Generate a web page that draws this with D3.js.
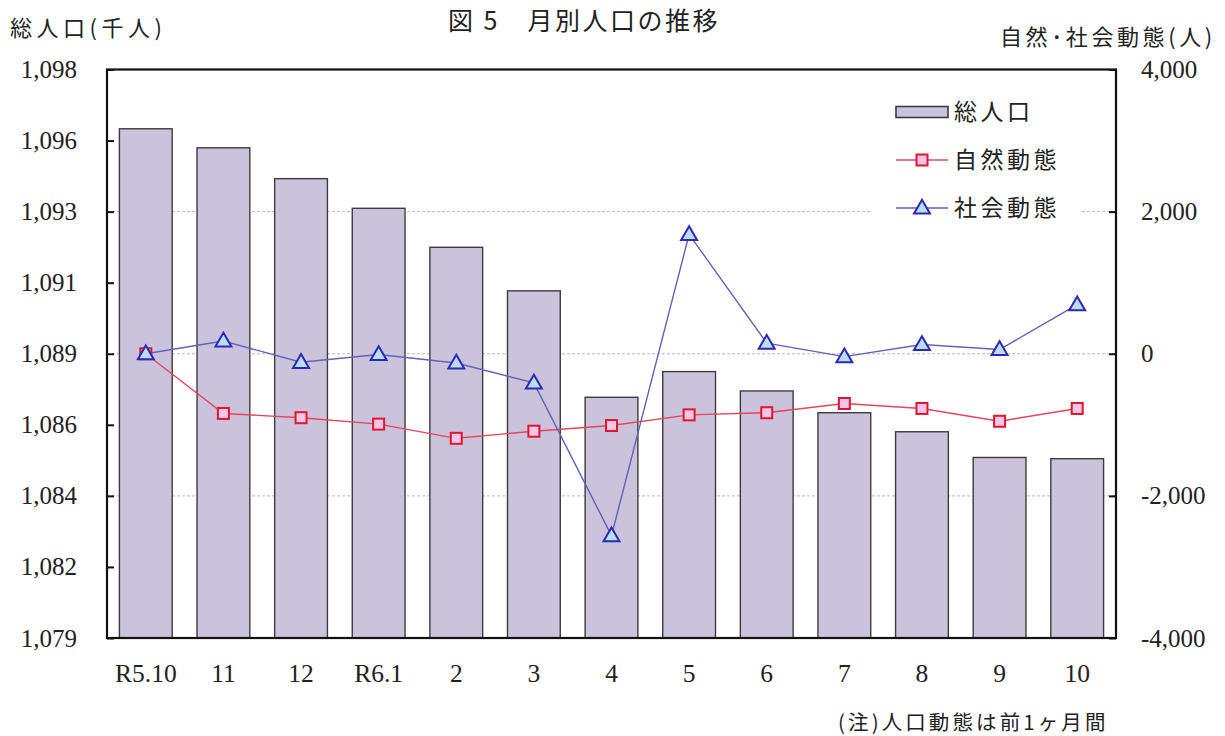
<!DOCTYPE html>
<html>
<head>
<meta charset="utf-8">
<script src="https://cdn.jsdelivr.net/npm/d3@7"></script>
<style>
  html, body { margin: 0; padding: 0; background: #fff; }
  svg { display: block; }
</style>
</head>
<body>
<svg id="chart" width="1225" height="736"></svg>
<script>
// ---- data ----
const categories = ["R5.10", "11", "12", "R6.1", "2", "3", "4", "5", "6", "7", "8", "9", "10"];
const totalPopulation = [1096.09, 1095.46, 1094.44, 1093.46, 1092.17, 1090.73, 1087.21, 1088.06, 1087.42, 1086.70, 1086.07, 1085.22, 1085.18];
const naturalChange = [0, -840, -900, -990, -1190, -1090, -1010, -860, -830, -700, -770, -950, -770];
const socialChange = [0, 180, -120, -10, -130, -410, -2560, 1680, 150, -40, 130, 60, 690];
const leftTickValues = [1079.25, 1081.6, 1083.95, 1086.3, 1088.65, 1091.0, 1093.35, 1095.7, 1098.05];
const leftTickLabels = ["1,079", "1,082", "1,084", "1,086", "1,089", "1,091", "1,093", "1,096", "1,098"];
const rightTickValues = [-4000, -2000, 0, 2000, 4000];
const gridValues = [-2000, 0, 2000];
const seriesNames = ["総人口", "自然動態", "社会動態"];
const titleText = "図 5　月別人口の推移";
const leftTitle = "総人口(千人)";
const rightTitle = "自然･社会動態(人)";
const noteText = "(注)人口動態は前1ヶ月間";

// ---- layout ----
const svg = d3.select("#chart");
const L = 107, R = 1116, T = 69.5, B = 638;
const serif = "'Liberation Serif', 'Times New Roman', serif";
const jp = "'Noto Sans CJK JP', 'Noto Sans', sans-serif";

const x = d3.scaleBand().domain(categories).range([L, R]).paddingInner(0.32).paddingOuter(0.16);
const yL = d3.scaleLinear().domain([leftTickValues[0], leftTickValues[leftTickValues.length - 1]]).range([B, T]);
const yR = d3.scaleLinear().domain([-4000, 4000]).range([B, T]);

const barFill = "#cbc3dc", barStroke = "#3c3c3c";
const redLine = "#e8445c", redStroke = "#e01530", redFill = "#f6c6e6";
const blueLine = "#6262b8", blueStroke = "#2a2ab4", blueFill = "#bcdcf4";

// gridlines
svg.append("g").selectAll("line").data(gridValues).join("line")
  .attr("x1", L).attr("x2", R)
  .attr("y1", d => yR(d)).attr("y2", d => yR(d))
  .attr("stroke", "#b8b8b8").attr("stroke-width", 1).attr("stroke-dasharray", "3,2");

// legend background (interrupts gridline)
svg.append("rect").attr("x", 871).attr("y", 88).attr("width", 211).attr("height", 136).attr("fill", "#fff");

// bars
svg.append("g").selectAll("rect").data(categories).join("rect")
  .attr("x", d => x(d))
  .attr("y", (d, i) => yL(totalPopulation[i]))
  .attr("width", x.bandwidth())
  .attr("height", (d, i) => B - yL(totalPopulation[i]))
  .attr("fill", barFill).attr("stroke", barStroke).attr("stroke-width", 1.4);

const cx = d => x(d) + x.bandwidth() / 2;

// lines
const seriesLine = d3.line().x((d, i) => cx(categories[i])).y(d => yR(d));
svg.append("path").datum(naturalChange).attr("d", seriesLine)
  .attr("fill", "none").attr("stroke", redLine).attr("stroke-width", 1.4);
svg.append("path").datum(socialChange).attr("d", seriesLine)
  .attr("fill", "none").attr("stroke", blueLine).attr("stroke-width", 1.4);

// square markers
const sq = 11;
svg.append("g").selectAll("rect").data(naturalChange).join("rect")
  .attr("x", (d, i) => cx(categories[i]) - sq / 2)
  .attr("y", d => yR(d) - sq / 2)
  .attr("width", sq).attr("height", sq)
  .attr("fill", redFill).attr("stroke", redStroke).attr("stroke-width", 2);

// triangle markers
const tri = d3.symbol().type(d3.symbolTriangle).size(110);
svg.append("g").selectAll("path").data(socialChange).join("path")
  .attr("d", tri)
  .attr("transform", (d, i) => `translate(${cx(categories[i])},${yR(d) + 1})`)
  .attr("fill", blueFill).attr("stroke", blueStroke).attr("stroke-width", 2);

// axes
const axL = d3.axisLeft(yL).tickValues(leftTickValues).tickFormat((d, i) => leftTickLabels[i])
  .tickSizeInner(-7).tickSizeOuter(0).tickPadding(30);
const gL = svg.append("g").attr("transform", `translate(${L},0)`).call(axL);
gL.select(".domain").remove();
gL.selectAll(".tick line").attr("stroke", "#111").attr("stroke-width", 2);
gL.selectAll(".tick text").attr("font-family", serif).attr("font-size", 25).attr("fill", "#222");

const fmt = d3.format(",");
const axR = d3.axisRight(yR).tickValues(rightTickValues).tickFormat(d => fmt(d).replace("−", "-"))
  .tickSizeInner(-7).tickSizeOuter(0).tickPadding(25);
const gR = svg.append("g").attr("transform", `translate(${R},0)`).call(axR);
gR.select(".domain").remove();
gR.selectAll(".tick line").attr("stroke", "#111").attr("stroke-width", 2);
gR.selectAll(".tick text").attr("font-family", serif).attr("font-size", 25).attr("fill", "#222");

const axB = d3.axisBottom(x).tickSize(0).tickPadding(26);
const gB = svg.append("g").attr("transform", `translate(0,${B})`).call(axB);
gB.select(".domain").remove();
gB.selectAll(".tick text").attr("font-family", serif).attr("font-size", 25.5).attr("fill", "#222");

// frame
svg.append("rect").attr("x", L).attr("y", T).attr("width", R - L).attr("height", B - T)
  .attr("fill", "none").attr("stroke", "#111").attr("stroke-width", 2.2);

// titles
svg.append("text").attr("x", 448).attr("y", 30).text(titleText)
  .attr("font-family", jp).attr("font-size", 25).attr("letter-spacing", 2.5).attr("fill", "#222");
svg.append("text").attr("x", 10).attr("y", 36).text(leftTitle)
  .attr("font-family", jp).attr("font-size", 22).attr("letter-spacing", 4.5).attr("fill", "#222");
svg.append("text").attr("x", 1000).attr("y", 45).text(rightTitle)
  .attr("font-family", jp).attr("font-size", 22).attr("letter-spacing", 3.6).attr("fill", "#222");
svg.append("text").attr("x", 838).attr("y", 730).text(noteText)
  .attr("font-family", jp).attr("font-size", 20.5).attr("letter-spacing", 3.1).attr("fill", "#222");

// legend
const lgX0 = 896, lgX1 = 948, lgText = 954;
const rows = [112, 160, 208];
svg.append("rect").attr("x", lgX0).attr("y", rows[0] - 5.5).attr("width", lgX1 - lgX0).attr("height", 11)
  .attr("fill", barFill).attr("stroke", barStroke).attr("stroke-width", 1.6);
svg.append("line").attr("x1", lgX0).attr("x2", lgX1).attr("y1", rows[1]).attr("y2", rows[1])
  .attr("stroke", redLine).attr("stroke-width", 1.4);
svg.append("rect").attr("x", (lgX0 + lgX1) / 2 - sq / 2).attr("y", rows[1] - sq / 2).attr("width", sq).attr("height", sq)
  .attr("fill", redFill).attr("stroke", redStroke).attr("stroke-width", 2);
svg.append("line").attr("x1", lgX0).attr("x2", lgX1).attr("y1", rows[2]).attr("y2", rows[2])
  .attr("stroke", blueLine).attr("stroke-width", 1.4);
svg.append("path").attr("d", tri).attr("transform", `translate(${(lgX0 + lgX1) / 2},${rows[2] + 1})`)
  .attr("fill", blueFill).attr("stroke", blueStroke).attr("stroke-width", 2);
svg.append("g").selectAll("text").data(seriesNames).join("text")
  .attr("x", lgText).attr("y", (d, i) => rows[i]).attr("dy", "0.36em").text(d => d)
  .attr("font-family", jp).attr("font-size", 23).attr("letter-spacing", 3.5).attr("fill", "#222");
</script>
</body>
</html>
